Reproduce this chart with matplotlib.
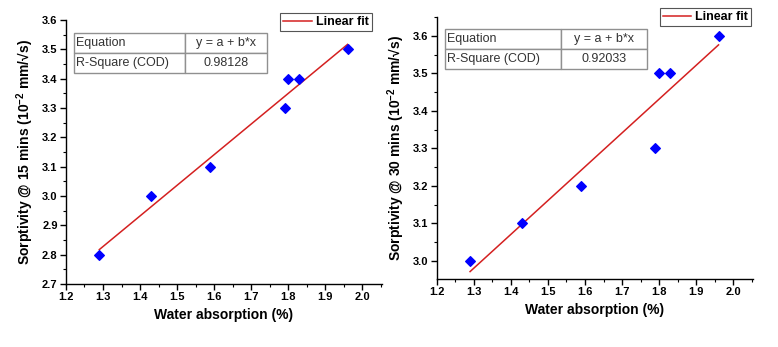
import numpy as np
import matplotlib.pyplot as plt
from matplotlib.ticker import MultipleLocator, FormatStrFormatter

plt.rcParams['font.family'] = ['Liberation Sans', 'DejaVu Sans']
plt.rcParams['mathtext.fontset'] = 'custom'
plt.rcParams['mathtext.rm'] = 'Liberation Sans:bold'
plt.rcParams['mathtext.bf'] = 'Liberation Sans:bold'

# Datos
absorcion = [1.29, 1.43, 1.59, 1.79, 1.80, 1.83, 1.96]
sorp_15 = [2.8, 3.0, 3.1, 3.3, 3.4, 3.4, 3.5]
sorp_30 = [3.0, 3.1, 3.2, 3.3, 3.5, 3.5, 3.6]
r2_15 = '0.98128'
r2_30 = '0.92033'
ylabel_15 = r'Sorptivity @ 15 mins (10$^{-2}$ mm/√s)'
ylabel_30 = r'Sorptivity @ 30 mins (10$^{-2}$ mm/√s)'

fig = plt.figure(figsize=(7.78, 3.47), dpi=100)
ax1 = fig.add_axes([0.0848, 0.1816, 0.4062, 0.7604])
ax2 = fig.add_axes([0.5613, 0.1960, 0.4066, 0.7550])


def panel(ax, y, r2, ylabel, ylim, yticks, tab_box, leg_anchor):
    x = np.array(absorcion)
    y = np.array(y)
    b, a = np.polyfit(x, y, 1)
    xs = np.array([x.min(), x.max()])
    ax.scatter(x, y, marker='D', s=24, color='#0000ff', zorder=3)
    ax.plot(xs, a + b * xs, color='#d42020', lw=1.1, label='Linear fit', zorder=2)

    ax.set_xlim(1.2, 2.053)
    ax.set_ylim(*ylim)
    ax.set_xticks(np.arange(1.2, 2.01, 0.1))
    ax.set_yticks(yticks)
    ax.xaxis.set_minor_locator(MultipleLocator(0.05))
    ax.yaxis.set_minor_locator(MultipleLocator(0.05))
    ax.xaxis.set_major_formatter(FormatStrFormatter('%.1f'))
    ax.yaxis.set_major_formatter(FormatStrFormatter('%.1f'))
    ax.spines['top'].set_visible(False)
    ax.spines['right'].set_visible(False)
    for s in ('left', 'bottom'):
        ax.spines[s].set_linewidth(1.0)
    ax.tick_params(which='major', direction='out', length=4, width=1,
                   labelsize=8, pad=2)
    ax.tick_params(which='minor', direction='out', length=2.5, width=0.8)
    for lab in ax.get_xticklabels() + ax.get_yticklabels():
        lab.set_fontweight('bold')
    ax.set_xlabel('Water absorption (%)', fontsize=10, fontweight='bold', labelpad=4)
    ax.set_ylabel(ylabel, fontsize=10, fontweight='bold', labelpad=4)

    tabla = ax.table(cellText=[['Equation', 'y = a + b*x'],
                               ['R-Square (COD)', r2]],
                     colWidths=[0.575, 0.425], bbox=tab_box)
    tabla.auto_set_font_size(False)
    tabla.set_fontsize(9)
    for (i, j), cell in tabla.get_celld().items():
        cell.set_edgecolor('#909090')
        cell.set_linewidth(1.0)
        cell.get_text().set_color('#333333')
        if j == 0:
            cell.get_text().set_ha('left')
            cell.PAD = 0.02
        else:
            cell.get_text().set_ha('center')

    leg = ax.legend(loc='upper right', bbox_to_anchor=leg_anchor, frameon=True,
                    fancybox=False, framealpha=1, edgecolor='#555555',
                    prop={'weight': 'bold', 'size': 9}, handlelength=2.3,
                    handletextpad=0.3, borderpad=0.25, borderaxespad=0)
    leg.get_frame().set_linewidth(0.8)


panel(ax1, sorp_15, r2_15, ylabel_15, (2.7, 3.6), np.arange(2.7, 3.61, 0.1),
      [0.025, 0.799, 0.611, 0.152], (0.968, 1.027))
panel(ax2, sorp_30, r2_30, ylabel_30, (2.952, 3.65), np.arange(3.0, 3.61, 0.1),
      [0.026, 0.80, 0.639, 0.153], (0.994, 1.034))

plt.savefig('out.png', dpi=100)
